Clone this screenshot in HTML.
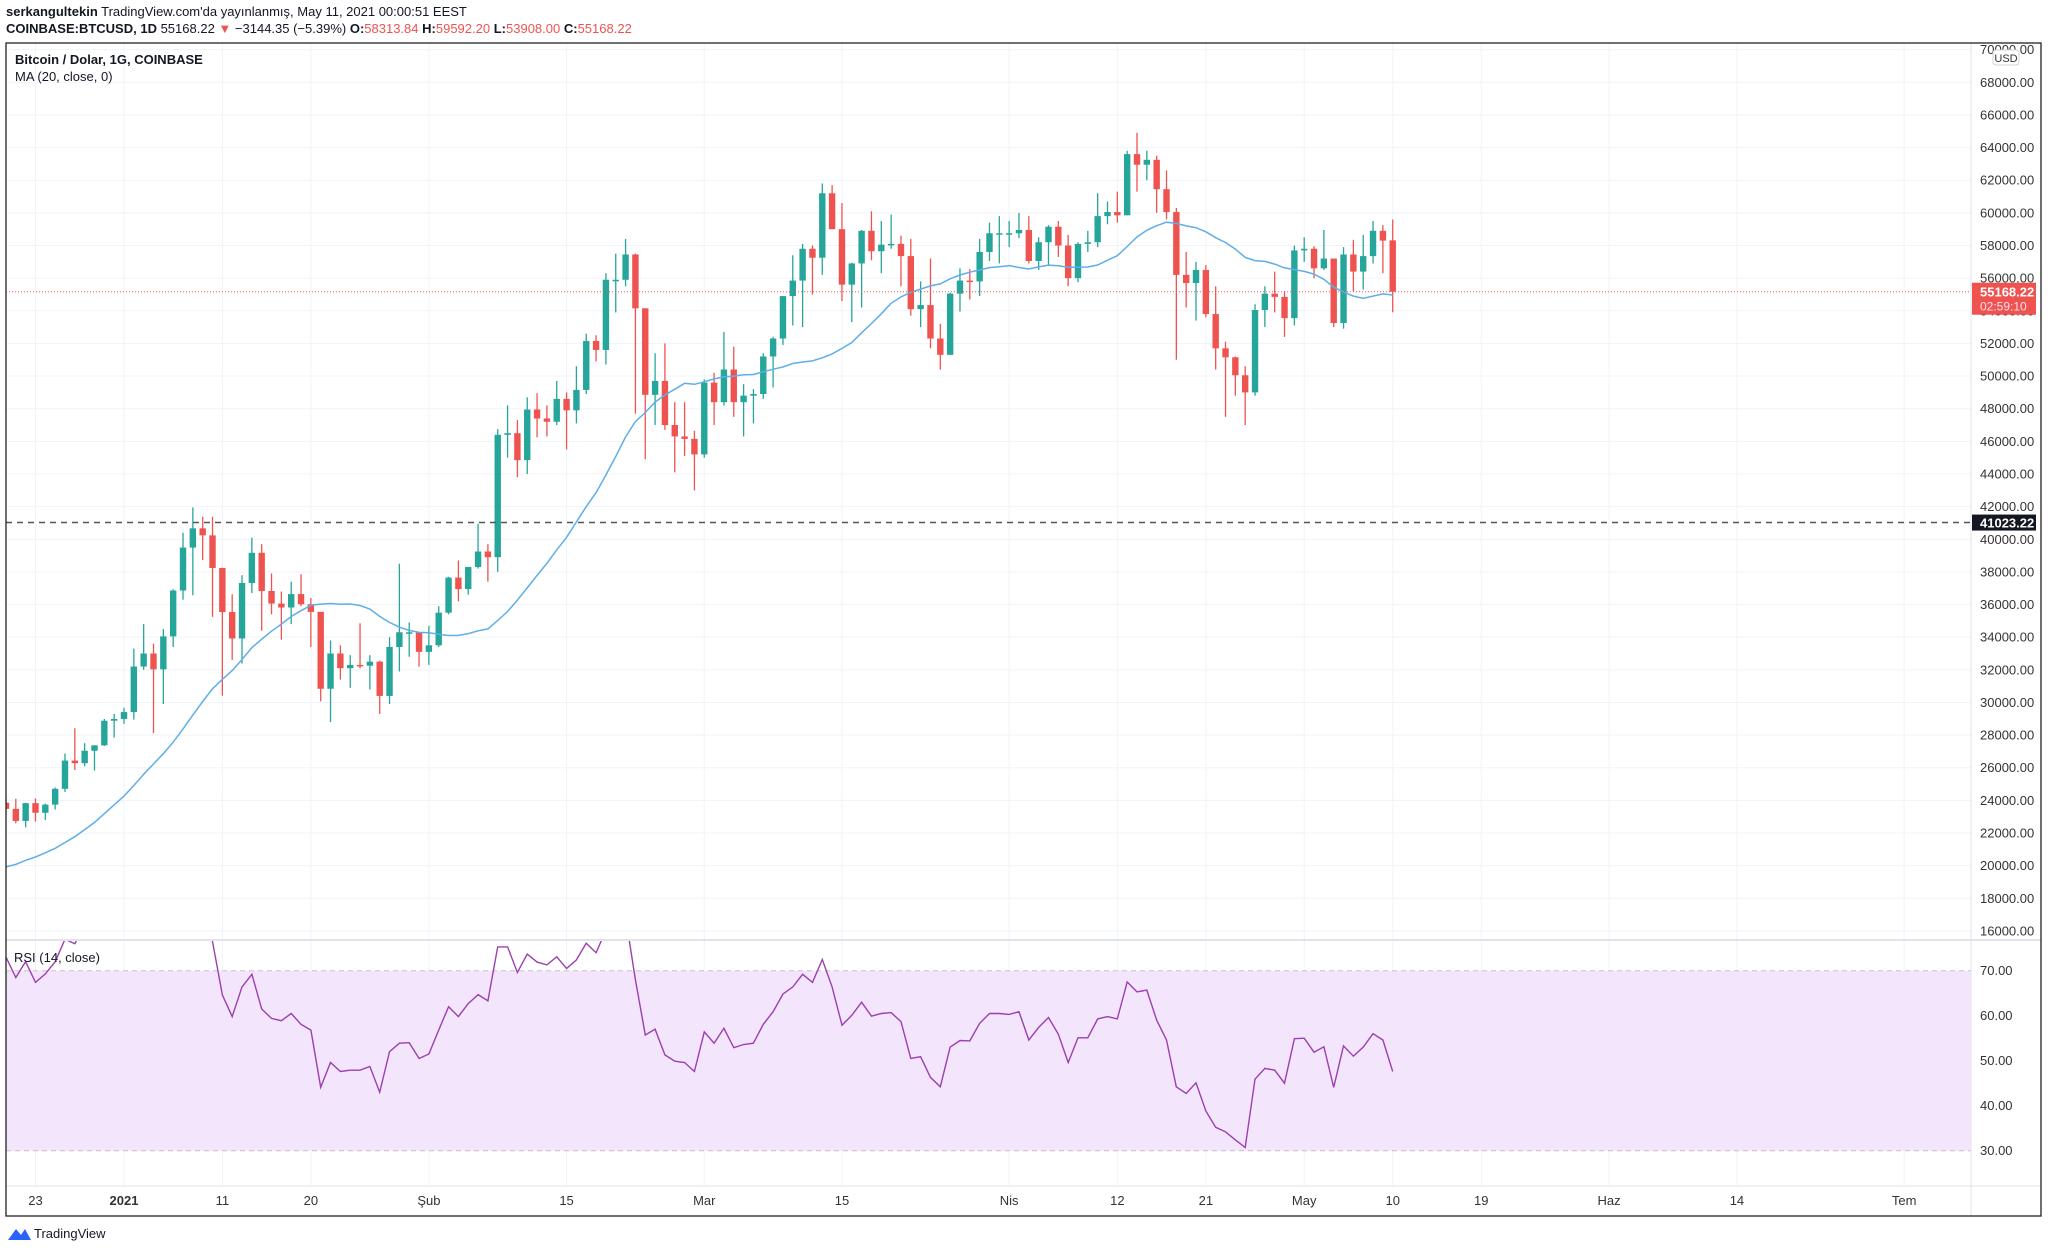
<!DOCTYPE html>
<html><head><meta charset="utf-8">
<style>
html,body{margin:0;padding:0;background:#fff;}
body{width:2048px;height:1253px;position:relative;overflow:hidden;font-family:"Liberation Sans","DejaVu Sans",sans-serif;}
.hdr{position:absolute;left:6px;font-size:13px;color:#131722;white-space:nowrap;}
svg text{font-family:"Liberation Sans","DejaVu Sans",sans-serif;}
</style></head>
<body>
<div class="hdr" style="top:4px"><b>serkangultekin</b> TradingView.com'da yayınlanmış, May 11, 2021 00:00:51 EEST</div>
<div class="hdr" style="top:21px"><b>COINBASE:BTCUSD, 1D</b> 55168.22 <span style="color:#ef5350">▼</span> −3144.35 (−5.39%) <b>O:</b><span style="color:#ef5350">58313.84</span> <b>H:</b><span style="color:#ef5350">59592.20</span> <b>L:</b><span style="color:#ef5350">53908.00</span> <b>C:</b><span style="color:#ef5350">55168.22</span></div>
<svg id="chart" width="2048" height="1253" style="position:absolute;left:0;top:0"></svg>
<script>
const startDay = -12; // Dec 20, 2020 relative to Jan 1, 2021
const opens = [23860,23480,22740,23830,23240,23740,24710,26440,26280,27040,27370,28880,28990,29410,32200,33000,32030,34050,36860,39490,40670,40240,38240,35540,33920,37320,39170,36830,36060,35820,36640,36020,35550,30840,33000,32100,32300,32250,32500,30400,33400,34300,34300,33100,33500,35500,37650,36950,38300,39250,38900,46400,46500,44850,47950,47400,47200,48600,47900,49150,52150,51600,55900,55900,57450,54150,48850,49700,47000,46300,46150,45200,49600,48400,50400,48400,48800,48900,51200,52300,54900,55850,57800,57250,61200,59000,55600,56900,58900,57650,58050,58100,57350,54100,54350,52300,51300,55050,55850,55800,57600,58750,58750,58750,58950,57050,58200,59150,58000,56000,58100,58200,59800,60050,59850,63600,62950,63250,61450,60050,56200,55700,56500,53800,51700,51150,50050,49000,54050,55050,54850,53550,57700,57800,56600,57200,53250,57450,56400,57350,58900,58314];
const highs = [24290,24100,23850,24120,23800,24790,26870,28420,27500,27380,28990,29300,29680,33300,34800,33600,34500,36940,40400,41950,41380,41380,38260,36630,37800,40100,39700,37900,36800,37400,37850,36400,35550,33800,33500,32900,34850,32900,32560,34000,38500,34900,34300,34700,35900,37700,38700,38300,40950,39700,46750,48200,47300,48700,48950,48200,49700,49000,50600,52600,52500,56300,57500,58400,57500,54150,51400,52000,48400,48400,46650,49800,50200,52700,51800,49500,49200,51400,52400,54900,57400,58100,58000,61800,61700,60600,56950,58950,60100,59500,59900,58600,58400,55800,57200,53200,55100,56600,56550,58400,59400,59800,59500,60000,59800,58500,59250,59500,58650,58200,58900,61200,60700,61300,63800,64900,63800,63500,62600,60300,57600,57000,56800,55500,52100,51200,50600,54400,55500,56400,55200,58000,58500,57950,58950,57200,57900,58350,58650,59500,59250,59592];
const lows = [23080,22600,22350,22700,22800,23440,24520,25860,26100,25830,27330,27850,28690,28950,32000,28130,29900,33400,36300,36570,38720,35250,30420,32600,32380,36700,34400,35400,33850,34800,35900,33400,30070,28800,31400,30900,32100,30800,29300,29900,31900,32800,32200,32300,33400,35400,36200,36600,38200,37400,38000,45000,43800,44000,46250,46300,47000,45500,47100,48900,50900,50700,53900,55500,47700,44900,47000,46700,44100,45100,43000,45000,47000,48200,47500,46300,47100,48600,49300,51900,53100,53000,55000,56200,59000,54600,53300,54200,57100,56300,57800,55500,53700,53000,51700,50400,51300,53950,54700,54900,57050,56900,57900,58450,56900,56500,56800,57300,55500,55750,57600,57900,59300,59400,59850,61300,62000,60000,59600,51000,54200,53400,53600,50400,47500,48800,47000,48800,53000,53900,52400,53100,57000,56000,56500,53000,52900,55200,55300,56900,56300,53908];
const closes = [23480,22740,23830,23240,23740,24710,26440,26280,27040,27370,28880,28990,29410,32200,33000,32030,34050,36860,39490,40670,40240,38240,35540,33920,37320,39170,36830,36060,35820,36640,36020,35550,30840,33000,32100,32300,32250,32500,30400,33400,34300,34300,33100,33500,35500,37650,36950,38300,39250,38900,46400,46500,44850,47950,47400,47200,48600,47900,49150,52150,51600,55900,55900,57450,54150,48850,49700,47000,46300,46150,45200,49600,48400,50400,48400,48800,48900,51200,52300,54900,55850,57800,57250,61200,59000,55600,56900,58900,57650,58050,58100,57350,54100,54350,52300,51300,55050,55850,55800,57600,58750,58750,58750,58950,57050,58200,59150,58000,56000,58100,58200,59800,60050,59850,63600,62950,63250,61450,60050,56200,55700,56500,53800,51700,51150,50050,49000,54050,55050,54850,53550,57700,57800,56600,57200,53250,57450,56400,57350,58900,58300,55168.22];
const priorCloses = [19700,18800,19200,18650,19150,19360,19170,18320,18550,18250,18030,18800,19170,19270,19440,21380,22830,23120,23850];
const rsi = [73,68.5,72,67.4,69.3,72,77,76,80,79,82,82,83,87,84,83,85,88,89,90,85,76.5,
64.6,59.8,66.4,69.2,61.5,59.4,58.9,60.5,58.1,56.8,44.1,49.6,47.6,47.9,47.9,48.7,43.0,52.0,53.9,54.0,50.5,
51.5,56.8,62.0,59.8,62.7,64.7,63.3,75.3,75.3,69.6,73.7,71.9,71.3,73.1,70.5,72.4,76.1,74.0,79,80,82,68,55.7,57.0,51.3,49.9,49.6,47.6,
56.4,53.9,57.2,52.9,53.6,53.9,58.1,60.9,64.8,66.4,69.2,67.4,72.5,66.4,57.9,60.1,63.0,59.9,60.5,60.7,58.7,50.5,50.9,46.3,44.2,53.0,54.5,54.4,58.3,60.5,60.5,60.3,60.9,54.6,57.4,59.6,55.9,49.6,55.1,55.1,59.3,59.8,59.3,67.5,65.3,65.7,59.0,54.6,44.2,42.7,45.1,38.8,35.2,34.2,32.4,30.7,45.9,48.3,47.9,45.0,54.9,55.0,51.9,53.1,44.1,53.3,51.0,53.0,56.0,54.6,47.6];
const priceTicks = [16000,18000,20000,22000,24000,26000,28000,30000,32000,34000,36000,38000,40000,42000,44000,46000,48000,50000,52000,54000,56000,58000,60000,62000,64000,66000,68000,70000];
const rsiTicks = [30,40,50,60,70];
const timeTickDays = [-9,0,10,19,31,45,59,73,90,101,110,120,129,138,151,164,181];
const timeTickLabels = ["23","2021","11","20","Şub","15","Mar","15","Nis","12","21","May","10","19","Haz","14","Tem"];
const lastPrice = 55168.22, hLine = 41023.22;

const NS="http://www.w3.org/2000/svg";
const svg=document.getElementById('chart');
const L=6,R=1971,T=43,B=1216,PANE=940,TAX=1186;
const xDay=d=>124+d*9.835;
const yP=p=>82.3+(68000-p)/2000*32.64;
const yR=v=>970.7+(70-v)*4.5;
function mk(tag,attrs,parent){const e=document.createElementNS(NS,tag);for(const k in attrs)e.setAttribute(k,attrs[k]);(parent||svg).appendChild(e);return e;}

// clip paths
const defs=mk('defs',{});
const c1=mk('clipPath',{id:'mainclip'},defs);mk('rect',{x:L,y:T,width:R-L,height:PANE-T},c1);
const c2=mk('clipPath',{id:'rsiclip'},defs);mk('rect',{x:L,y:PANE,width:R-L,height:TAX-PANE},c2);

// grid
const grid=mk('g',{stroke:'#f0f3fa','stroke-width':1});


priceTicks.forEach(p=>{const y=yP(p);if(y>T&&y<PANE)mk('line',{x1:L,x2:R,y1:y,y2:y},grid);});
[40,50,60].forEach(v=>mk('line',{x1:L,x2:R,y1:yR(v),y2:yR(v)},grid));
timeTickDays.forEach(d=>{const x=xDay(d);mk('line',{x1:x,x2:x,y1:T,y2:TAX},grid);});

// RSI band
const band=mk('rect',{x:L,y:yR(70),width:R-L,height:yR(30)-yR(70),fill:'#f3e5fc'});


[70,30].forEach(v=>{const l=mk('line',{x1:L,x2:R,y1:yR(v),y2:yR(v),stroke:'#c8c0cc','stroke-dasharray':'5,4'});

});

// candles
const cg=mk('g',{'clip-path':'url(#mainclip)'});


closes.forEach((c,i)=>{
  const x=xDay(startDay+i),o=opens[i],up=c>=o,col=up?'#26a69a':'#ef5350';
  const g=mk('g',{},cg);
  
  
  mk('line',{x1:x,x2:x,y1:yP(highs[i]),y2:yP(lows[i]),stroke:col,'stroke-width':1.3},g);
  const y1=yP(Math.max(o,c)),y2=yP(Math.min(o,c));
  mk('rect',{x:x-3.2,y:y1,width:6.4,height:Math.max(1.5,y2-y1),fill:col},g);
});

// MA20
const all=priorCloses.concat(closes);
let pts=[];
closes.forEach((c,i)=>{const j=i+priorCloses.length;let s=0;for(let k=j-19;k<=j;k++)s+=all[k];pts.push(xDay(startDay+i).toFixed(1)+','+yP(s/20).toFixed(1));});
const ma=mk('polyline',{points:pts.join(' '),fill:'none',stroke:'#5faee8','stroke-width':1.5,'clip-path':'url(#mainclip)'});



// RSI line
const rp=rsi.map((v,i)=>xDay(startDay+i).toFixed(1)+','+yR(v).toFixed(1)).join(' ');
const rl=mk('polyline',{points:rp,fill:'none',stroke:'#9c3fb0','stroke-width':1.4,'clip-path':'url(#rsiclip)'});



// horizontal lines
const pl=mk('line',{x1:L,x2:R,y1:yP(lastPrice),y2:yP(lastPrice),stroke:'#ef5350','stroke-dasharray':'1,2','stroke-width':1});


const hl=mk('line',{x1:L,x2:R,y1:yP(hLine),y2:yP(hLine),stroke:'#555','stroke-dasharray':'6,5','stroke-width':1.5});



// frame & separators
mk('line',{x1:R,x2:R,y1:T,y2:B,stroke:'#e0e3eb'});
mk('line',{x1:L,x2:2041,y1:PANE,y2:PANE,stroke:'#e0e3eb','stroke-width':2});
mk('line',{x1:L,x2:2041,y1:TAX,y2:TAX,stroke:'#e0e3eb'});
const fr=mk('rect',{x:L,y:T,width:2041-L,height:B-T,fill:'none',stroke:'#222','stroke-width':1.3});



// price axis labels
const pa=mk('g',{'font-size':13,fill:'#333'});


priceTicks.forEach(p=>{const y=yP(p);if(y>T&&y<PANE-3){const t=mk('text',{x:1980,y:y+4.5},pa);t.textContent=p.toFixed(2);}});
const ra=mk('g',{'font-size':13,fill:'#333'});


rsiTicks.forEach(v=>{const t=mk('text',{x:1980,y:yR(v)+4.5},ra);t.textContent=v.toFixed(2);});

// time axis
const ta=mk('g',{'font-size':13,fill:'#333','text-anchor':'middle'});


timeTickDays.forEach((d,i)=>{const t=mk('text',{x:xDay(d),y:1205},ta);if(timeTickLabels[i]==='2021')t.setAttribute('font-weight','bold');t.textContent=timeTickLabels[i];});

// USD badge
const ub=mk('g',{});


mk('rect',{x:1993,y:50,width:26,height:15,rx:3,fill:'#fff',stroke:'#d0d3db'},ub);
const ut=mk('text',{x:2006,y:62,'font-size':11,fill:'#333','text-anchor':'middle'},ub);ut.textContent='USD';

// last price label
const lp=mk('g',{});


mk('rect',{x:1972,y:yP(lastPrice)-9,width:64,height:32,fill:'#ef5350'},lp);
let t1=mk('text',{x:1980,y:yP(lastPrice)+5,'font-size':13,fill:'#fff','font-weight':'bold'},lp);t1.textContent=lastPrice.toFixed(2);
let t2=mk('text',{x:1980,y:yP(lastPrice)+19,'font-size':12,fill:'#fde'},lp);t2.textContent='02:59:10';

// level label
const hlb=mk('g',{});


mk('rect',{x:1972,y:yP(hLine)-8,width:64,height:16,fill:'#131722'},hlb);
let t3=mk('text',{x:1980,y:yP(hLine)+5,'font-size':13,fill:'#fff','font-weight':'bold'},hlb);t3.textContent=hLine.toFixed(2);

// legends
const lg=mk('g',{'font-size':13,fill:'#131722'});


let a=mk('text',{x:15,y:64,'font-weight':'bold'},lg);a.textContent='Bitcoin / Dolar, 1G, COINBASE';
let b=mk('text',{x:15,y:81},lg);b.textContent='MA (20, close, 0)';
let c=mk('text',{x:14,y:962},lg);c.textContent='RSI (14, close)';

// TradingView logo
const tv=mk('g',{});


mk('path',{d:'M8 1240 L16 1229 L21 1235 L25 1229 L31 1240 Z',fill:'#2962ff'},tv);
let tt=mk('text',{x:34,y:1238,'font-size':13,fill:'#131722'},tv);tt.textContent='TradingView';
</script>
</body></html>
